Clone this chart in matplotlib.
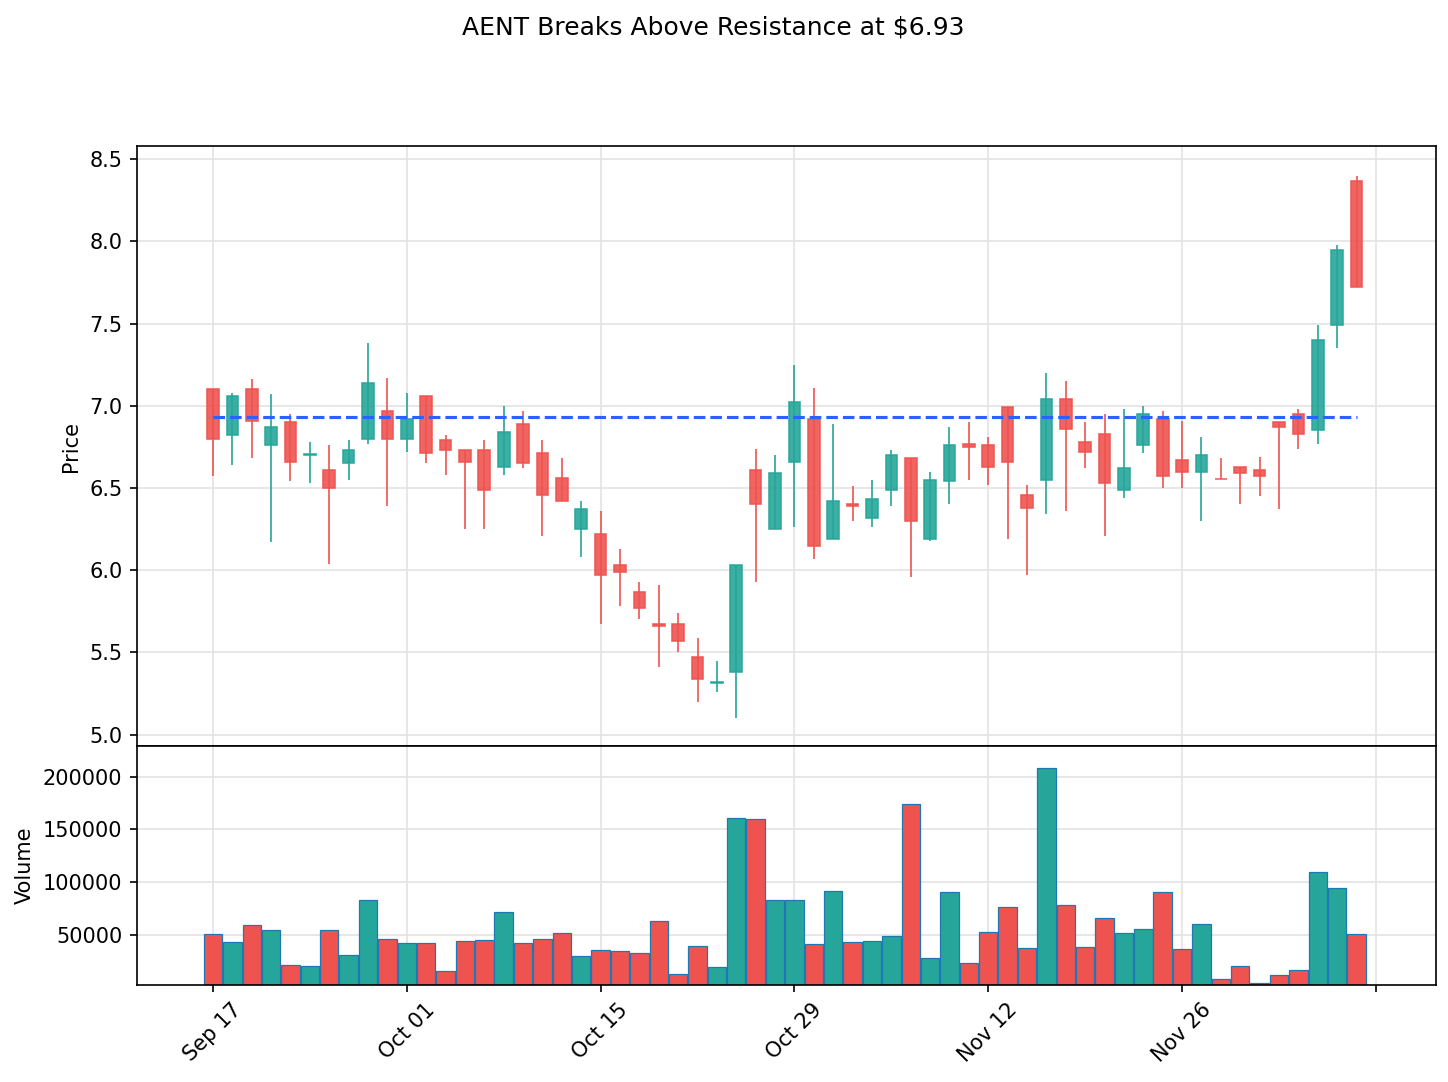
import numpy as np
import matplotlib
matplotlib.use('Agg')
import matplotlib.pyplot as plt
import pandas as pd
from matplotlib.patches import Rectangle

ticker = 'AENT'
resistance = 6.93
start_date = '2024-09-17'

opens = [7.10, 6.82, 7.10, 6.76, 6.90, 6.70, 6.61, 6.65, 6.80, 6.97,
         6.80, 7.06, 6.79, 6.73, 6.73, 6.63, 6.89, 6.71, 6.56, 6.25,
         6.22, 6.03, 5.87, 5.67, 5.67, 5.47, 5.315, 5.38, 6.61, 6.25,
         6.66, 6.92, 6.19, 6.40, 6.32, 6.49, 6.68, 6.19, 6.54, 6.77,
         6.76, 6.99, 6.46, 6.55, 7.04, 6.78, 6.83, 6.49, 6.76, 6.92,
         6.67, 6.60, 6.556, 6.63, 6.61, 6.90, 6.95, 6.85, 7.49, 8.37]
highs = [7.10, 7.08, 7.16, 7.07, 6.95, 6.78, 6.76, 6.79, 7.38, 7.17,
         7.08, 7.06, 6.82, 6.73, 6.79, 7.00, 6.97, 6.79, 6.68, 6.42,
         6.36, 6.13, 5.93, 5.91, 5.74, 5.59, 5.45, 6.03, 6.74, 6.70,
         7.25, 7.11, 6.89, 6.51, 6.55, 6.73, 6.68, 6.60, 6.87, 6.90,
         6.81, 6.99, 6.52, 7.20, 7.15, 6.90, 6.95, 6.98, 7.00, 6.97,
         6.91, 6.81, 6.68, 6.63, 6.69, 6.90, 6.98, 7.49, 7.98, 8.40]
lows = [6.57, 6.64, 6.68, 6.17, 6.54, 6.53, 6.04, 6.55, 6.77, 6.39,
        6.72, 6.65, 6.58, 6.25, 6.25, 6.58, 6.62, 6.21, 6.42, 6.08,
        5.67, 5.78, 5.70, 5.41, 5.50, 5.20, 5.26, 5.10, 5.93, 6.25,
        6.26, 6.07, 6.19, 6.30, 6.26, 6.39, 5.96, 6.18, 6.40, 6.55,
        6.52, 6.19, 5.97, 6.34, 6.36, 6.62, 6.21, 6.44, 6.71, 6.50,
        6.50, 6.30, 6.553, 6.40, 6.45, 6.37, 6.74, 6.77, 7.35, 7.72]
closes = [6.80, 7.06, 6.91, 6.87, 6.66, 6.705, 6.50, 6.73, 7.14, 6.80,
          6.92, 6.71, 6.73, 6.66, 6.49, 6.84, 6.65, 6.46, 6.42, 6.37,
          5.97, 5.99, 5.77, 5.663, 5.57, 5.34, 5.322, 6.03, 6.40, 6.59,
          7.02, 6.15, 6.42, 6.393, 6.43, 6.70, 6.30, 6.55, 6.76, 6.75,
          6.63, 6.66, 6.38, 7.04, 6.86, 6.72, 6.53, 6.62, 6.95, 6.57,
          6.60, 6.70, 6.553, 6.59, 6.57, 6.87, 6.83, 7.40, 7.95, 7.72]
volumes = [50600, 43400, 59200, 54400, 21800, 20200, 54400, 30700, 82900, 45900,
           42100, 42100, 15800, 44000, 44900, 71500, 42100, 45900, 51600, 29700,
           35400, 34500, 32600, 63000, 12700, 39200, 19300, 160800, 159800, 82900,
           82900, 41100, 91500, 43000, 44000, 48700, 174100, 27800, 90500, 23100,
           52500, 76300, 37300, 208300, 78200, 38300, 65500, 51600, 55400, 90500,
           36400, 60100, 7900, 20900, 4700, 11700, 16500, 109500, 94300, 50600]

up_color = '#26a69a'
down_color = '#ef5350'

n = len(opens)
dates = pd.bdate_range(start_date, periods=n)
x = np.arange(n)
o = np.array(opens)
h = np.array(highs)
l = np.array(lows)
c = np.array(closes)
v = np.array(volumes)
colors = [up_color if cc >= oo else down_color for oo, cc in zip(o, c)]

fig = plt.figure(figsize=(1448 / 150, 1082 / 150), dpi=150)
ax = fig.add_axes([0.0946, 0.3105, 0.8971, 0.5545])
axv = fig.add_axes([0.0946, 0.0896, 0.8971, 0.2209], sharex=ax)

# candles
body_w = 0.6
for i in range(n):
    ax.vlines(x[i], l[i], h[i], color=colors[i], linewidth=0.8, zorder=2)
    bottom = min(o[i], c[i])
    height = max(abs(c[i] - o[i]), 0.004)
    ax.add_patch(Rectangle((x[i] - body_w / 2, bottom), body_w, height,
                           facecolor=colors[i], edgecolor=colors[i],
                           linewidth=0.8, alpha=0.9, zorder=3))

ax.plot([x[0], x[-1]], [resistance, resistance], linestyle='--',
        color='#2962ff', linewidth=1.5, zorder=4)
ax.set_ylim(4.93, 8.58)
ax.set_ylabel('Price')
ax.grid(True, color='#e3e3e3', linewidth=0.8)
ax.set_axisbelow(True)
plt.setp(ax.get_xticklabels(), visible=False)
ax.tick_params(axis='x', length=0)

# volume
axv.bar(x, v, width=0.95, color=colors, edgecolor='#1f77b4', linewidth=0.6, zorder=2)
axv.set_ylim(v.min() * 0.5, v.max() * 1.1)
axv.set_ylabel('Volume')
axv.ticklabel_format(axis='y', style='plain')
axv.set_yticks([50000, 100000, 150000, 200000])
axv.grid(True, color='#e3e3e3', linewidth=0.8)
axv.set_axisbelow(True)

ticks = list(range(0, n + 1, 10))
labels = [dates[t].strftime('%b %d') if t < n else '' for t in ticks]
axv.set_xticks(ticks)
axv.set_xticklabels(labels, rotation=45)
axv.set_xlim(-3.92, 63.1)

fig.text(713 / 1448, 1 - 27 / 1082, f'{ticker} Breaks Above Resistance at ${resistance:.2f}',
         ha='center', va='center', fontsize=12)

fig.savefig('out.png', dpi=150)
